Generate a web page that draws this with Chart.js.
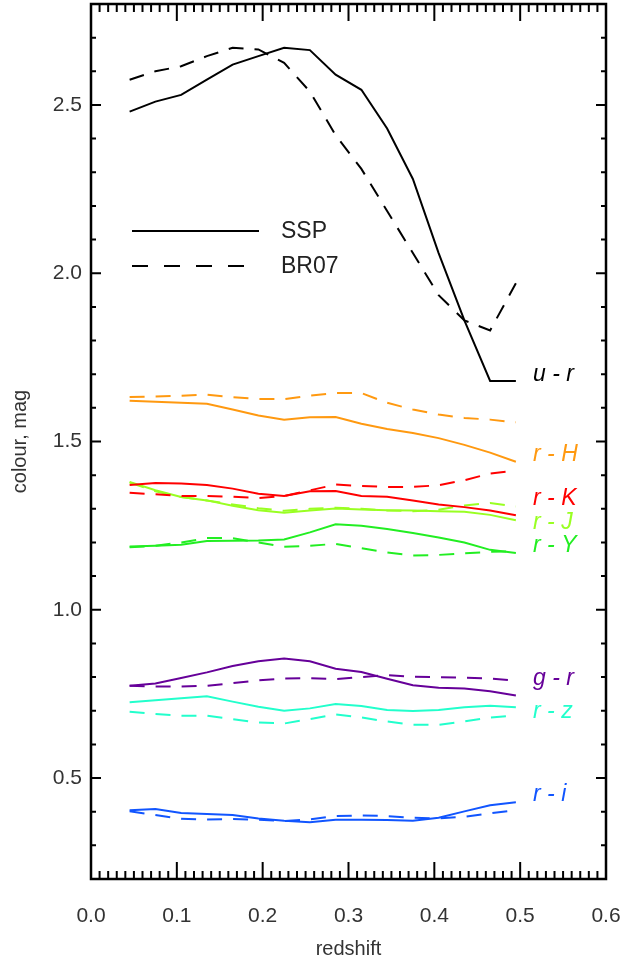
<!DOCTYPE html>
<html>
<head>
<meta charset="utf-8">
<script src="https://cdn.jsdelivr.net/npm/chart.js@4"></script>
<style>
  html, body { margin: 0; padding: 0; background: #fff; }
  #wrap { width: 624px; height: 965px; }
</style>
</head>
<body>
<div id="wrap"><canvas id="colourChart" width="624" height="965"></canvas></div>
<script>
  // redshift bins
  const redshift = [0.045, 0.075, 0.105, 0.135, 0.165, 0.195, 0.225, 0.255,
                    0.285, 0.315, 0.345, 0.375, 0.405, 0.435, 0.465, 0.495];

  const colourNames = ['u - r', 'r - H', 'r - K', 'r - J', 'r - Y', 'g - r', 'r - z', 'r - i'];
  const colourHex   = ['#000000', '#ff9910', '#ff0000', '#99ff22', '#22ee22', '#660099', '#22ffcc', '#1155ff'];
  // where the name of each colour sits (y in mag)
  const labelMag    = [1.70, 1.46, 1.33, 1.26, 1.19, 0.795, 0.698, 0.45];

  // SSP (solid)
  const ssp_ur = [2.48, 2.51, 2.53, 2.575, 2.62, 2.645, 2.67, 2.663, 2.59, 2.545, 2.43, 2.28, 2.06, 1.86, 1.68, 1.68];
  const ssp_rH = [1.621, 1.618, 1.615, 1.612, 1.595, 1.577, 1.565, 1.572, 1.573, 1.553, 1.537, 1.525, 1.51, 1.49, 1.467, 1.44];
  const ssp_rK = [1.371, 1.377, 1.375, 1.371, 1.36, 1.345, 1.338, 1.352, 1.353, 1.338, 1.336, 1.325, 1.313, 1.305, 1.295, 1.281];
  const ssp_rJ = [1.38, 1.355, 1.335, 1.325, 1.309, 1.296, 1.288, 1.295, 1.301, 1.298, 1.296, 1.295, 1.293, 1.291, 1.282, 1.266];
  const ssp_rY = [1.188, 1.19, 1.193, 1.204, 1.205, 1.206, 1.209, 1.23, 1.254, 1.25, 1.24, 1.228, 1.215, 1.2, 1.178, 1.169];
  const ssp_gr = [0.774, 0.781, 0.797, 0.814, 0.833, 0.847, 0.855, 0.847, 0.825, 0.815, 0.795, 0.776, 0.768, 0.766, 0.758, 0.745];
  const ssp_rz = [0.725, 0.731, 0.737, 0.743, 0.727, 0.712, 0.70, 0.707, 0.72, 0.714, 0.702, 0.699, 0.702, 0.71, 0.715, 0.71];
  const ssp_ri = [0.404, 0.408, 0.396, 0.393, 0.39, 0.38, 0.373, 0.369, 0.376, 0.376, 0.375, 0.373, 0.382, 0.401, 0.419, 0.428];

  // BR07 (dashed)
  const br_ur = [2.575, 2.60, 2.615, 2.645, 2.67, 2.665, 2.625, 2.54, 2.41, 2.31, 2.185, 2.06, 1.935, 1.86, 1.83, 1.97];
  const br_rH = [1.632, 1.634, 1.636, 1.639, 1.632, 1.626, 1.626, 1.636, 1.644, 1.644, 1.615, 1.595, 1.58, 1.57, 1.565, 1.557];
  const br_rK = [1.348, 1.343, 1.338, 1.338, 1.336, 1.332, 1.338, 1.355, 1.372, 1.368, 1.365, 1.365, 1.37, 1.385, 1.405, 1.414];
  const br_rJ = [1.378, 1.352, 1.335, 1.325, 1.313, 1.302, 1.294, 1.30, 1.303, 1.30, 1.295, 1.293, 1.297, 1.31, 1.317, 1.307];
  const br_rY = [1.186, 1.19, 1.20, 1.213, 1.213, 1.20, 1.187, 1.19, 1.196, 1.183, 1.17, 1.161, 1.163, 1.168, 1.172, 1.174];
  const br_gr = [0.774, 0.772, 0.772, 0.774, 0.782, 0.79, 0.796, 0.797, 0.794, 0.80, 0.806, 0.801, 0.80, 0.798, 0.796, 0.789];
  const br_rz = [0.697, 0.69, 0.685, 0.685, 0.675, 0.665, 0.662, 0.675, 0.689, 0.68, 0.668, 0.658, 0.658, 0.668, 0.68, 0.686];
  const br_ri = [0.401, 0.39, 0.379, 0.377, 0.378, 0.376, 0.372, 0.377, 0.387, 0.389, 0.387, 0.382, 0.38, 0.385, 0.395, 0.405];

  const xTicks = [0.0, 0.1, 0.2, 0.3, 0.4, 0.5, 0.6];
  const yTicks = [0.5, 1.0, 1.5, 2.0, 2.5];

  const sspSets = [ssp_ur, ssp_rH, ssp_rK, ssp_rJ, ssp_rY, ssp_gr, ssp_rz, ssp_ri];
  const brSets  = [br_ur, br_rH, br_rK, br_rJ, br_rY, br_gr, br_rz, br_ri];

  const toPoints = arr => arr.map((v, i) => ({ x: redshift[i], y: v }));

  const datasets = [];
  colourNames.forEach((name, i) => {
    datasets.push({
      label: name + ' SSP',
      data: toPoints(sspSets[i]),
      borderColor: colourHex[i],
      borderWidth: 2,
      pointRadius: 0,
      tension: 0
    });
    datasets.push({
      label: name + ' BR07',
      data: toPoints(brSets[i]),
      borderColor: colourHex[i],
      borderWidth: 2,
      borderDash: [15, 11],
      pointRadius: 0,
      tension: 0
    });
  });

  // IDL-style frame: inward ticks on all four sides
  const framePlugin = {
    id: 'frame',
    afterDraw(chart) {
      const { ctx, chartArea: a, scales: { x, y } } = chart;
      ctx.save();
      ctx.strokeStyle = '#000';
      ctx.lineWidth = 2;
      ctx.beginPath();
      for (let k = 0; k <= 60; k++) {
        const px = x.getPixelForValue(k / 100);
        const len = k % 10 === 0 ? 17 : 8;
        ctx.moveTo(px, a.bottom); ctx.lineTo(px, a.bottom - len);
        ctx.moveTo(px, a.top); ctx.lineTo(px, a.top + len);
      }
      for (let k = 2; k <= 28; k++) {
        const py = y.getPixelForValue(k / 10);
        const len = k % 5 === 0 ? 10 : 5;
        ctx.moveTo(a.left, py); ctx.lineTo(a.left + len, py);
        ctx.moveTo(a.right, py); ctx.lineTo(a.right - len, py);
      }
      ctx.stroke();
      ctx.lineWidth = 2.5;
      ctx.strokeRect(a.left, a.top, a.right - a.left, a.bottom - a.top);

      // colour names at the right end of the curves
      ctx.font = 'italic 23px "Liberation Sans", Arial, sans-serif';
      ctx.textBaseline = 'middle';
      ctx.textAlign = 'left';
      colourNames.forEach((name, i) => {
        ctx.fillStyle = colourHex[i];
        ctx.fillText(name, x.getPixelForValue(0.515), y.getPixelForValue(labelMag[i]));
      });

      // legend
      ctx.strokeStyle = '#000';
      ctx.lineWidth = 2;
      ctx.beginPath();
      ctx.moveTo(132, 231); ctx.lineTo(259, 231);
      ctx.stroke();
      ctx.setLineDash([16, 16]);
      ctx.beginPath();
      ctx.moveTo(132, 266); ctx.lineTo(259, 266);
      ctx.stroke();
      ctx.setLineDash([]);
      ctx.fillStyle = '#222';
      ctx.font = '23px "Liberation Sans", Arial, sans-serif';
      ctx.fillText('SSP', 281, 232);
      ctx.fillText('BR07', 281, 267);
      ctx.restore();
    }
  };

  const tickFont = { family: '"Liberation Sans", Arial, sans-serif', size: 21 };

  new Chart(document.getElementById('colourChart').getContext('2d'), {
    type: 'line',
    data: { datasets },
    options: {
      responsive: false,
      animation: false,
      layout: { padding: { top: 4, right: 18, left: 0, bottom: 0 } },
      plugins: { legend: { display: false }, tooltip: { enabled: false } },
      scales: {
        x: {
          type: 'linear',
          min: 0, max: 0.6,
          afterFit: s => { s.height = 86; s.paddingLeft = 0; s.paddingRight = 0; },
          afterBuildTicks: s => { s.ticks = xTicks.map(v => ({ value: v })); },
          grid: { display: false, drawTicks: false },
          border: { display: false },
          ticks: { color: '#333', font: tickFont, padding: 25, callback: v => v.toFixed(1) },
          title: { display: true, text: 'redshift', color: '#333',
                   font: { family: '"Liberation Sans", Arial, sans-serif', size: 20 },
                   padding: { top: 0, bottom: 4 } }
        },
        y: {
          type: 'linear',
          min: 0.2, max: 2.8,
          afterFit: s => { s.width = 91; s.paddingTop = 0; s.paddingBottom = 0; },
          afterBuildTicks: s => { s.ticks = yTicks.map(v => ({ value: v })); },
          grid: { display: false, drawTicks: false },
          border: { display: false },
          ticks: { color: '#333', font: tickFont, padding: 9, callback: v => v.toFixed(1) },
          title: { display: true, text: 'colour, mag', color: '#333',
                   font: { family: '"Liberation Sans", Arial, sans-serif', size: 20 },
                   padding: { top: 8, bottom: 0 } }
        }
      }
    },
    plugins: [framePlugin]
  });
</script>
</body>
</html>
